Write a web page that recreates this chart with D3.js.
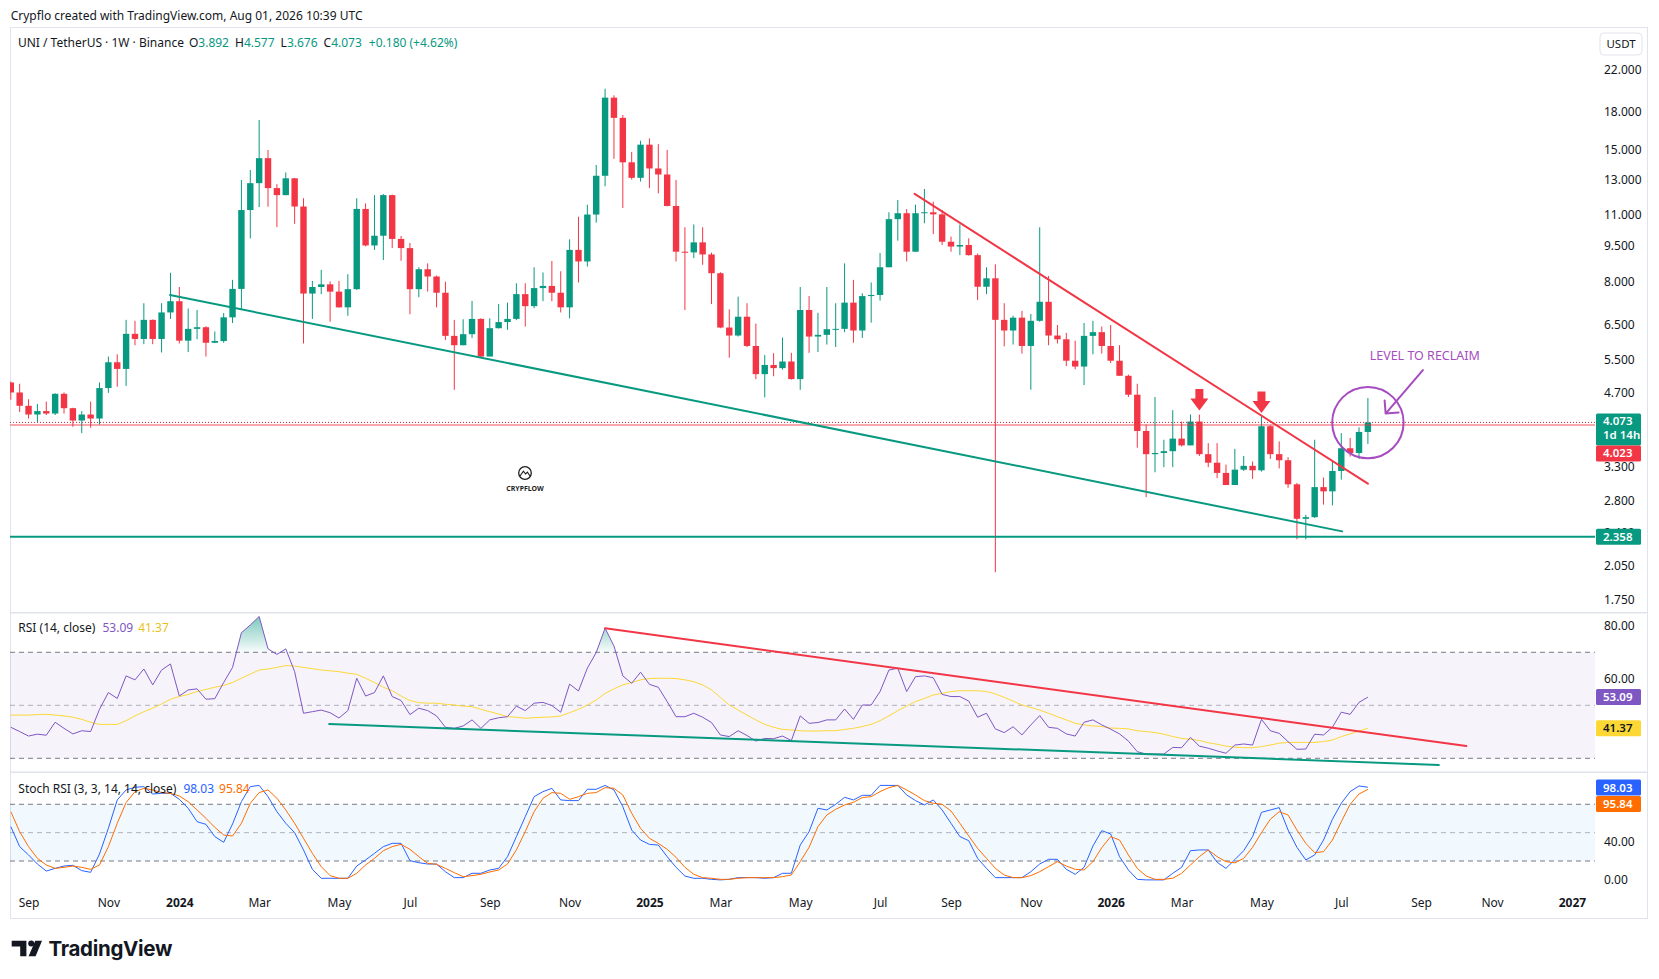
<!DOCTYPE html>
<html>
<head>
<meta charset="utf-8">
<title>UNI / TetherUS 1W</title>
<script src="https://cdn.jsdelivr.net/npm/d3@7"></script>
<style>
  html, body { margin: 0; padding: 0; background: #fff; }
  svg { display: block; font-family: "Noto Sans", Roboto, sans-serif; }
</style>
</head>
<body>
<svg id="chart"></svg>
<script>
// ---- weekly UNI/USDT candles, bar 1 = week of 21 Aug 2023 ----
const firstOpen = 4.93;
const closes = [4.70,4.41,4.23,4.30,4.25,4.67,4.36,4.11,4.23,4.15,
  4.80,5.43,5.26,6.22,6.07,6.65,6.07,6.89,7.27,6.02,
  6.37,6.42,5.96,6.01,6.73,7.71,11.24,12.78,14.40,12.48,
  12.07,13.08,11.43,7.54,7.78,7.88,7.61,7.06,7.70,11.30,
  9.49,9.94,12.07,9.79,9.37,7.70,8.47,8.18,7.57,6.16,
  5.89,6.21,6.68,5.58,6.39,6.58,6.68,7.52,7.10,7.74,
  7.82,7.57,7.06,9.29,8.79,11.00,13.24,19.23,17.46,14.12,
  13.11,15.36,13.71,13.32,11.46,9.21,9.18,9.63,9.09,8.31,
  6.41,6.17,6.75,5.87,5.13,5.36,5.28,5.45,5.01,6.97,
  6.14,6.19,6.36,6.37,7.22,6.32,7.45,7.49,8.55,10.76,
  11.07,9.21,11.07,11.12,11.01,9.66,9.44,9.51,9.06,7.79,
  8.11,6.65,6.32,6.72,5.87,6.62,7.25,6.17,6.06,5.47,
  5.32,6.16,6.27,5.87,5.47,5.09,4.65,3.91,3.50,3.52,
  3.55,3.77,3.65,4.09,3.50,3.36,3.20,3.02,3.25,3.31,
  3.24,4.00,3.50,3.40,3.03,2.57,2.59,2.99,2.93,3.23,
  3.60,3.52,3.892,4.073];
const highs = [4.95,4.90,4.55,4.45,4.50,4.68,4.70,4.37,4.30,4.50,
  4.93,5.58,5.64,6.65,6.62,7.20,6.66,7.20,8.33,7.78,
  7.02,6.97,6.45,6.29,6.87,8.05,12.98,13.61,17.28,14.98,
  12.72,13.45,13.10,11.89,8.01,8.44,7.99,8.01,8.27,11.89,
  11.60,12.07,12.13,12.10,9.93,9.60,8.55,8.71,8.22,7.98,
  6.65,6.67,7.28,6.70,6.70,7.17,7.22,7.92,7.92,8.55,
  8.34,8.81,8.39,9.77,10.89,11.53,13.94,20.07,19.45,17.70,
  14.84,15.65,15.83,15.40,14.98,12.98,10.35,10.49,10.35,9.17,
  8.35,6.99,7.43,7.20,6.53,5.62,5.67,6.11,5.68,7.78,
  7.45,6.88,7.78,7.20,8.71,8.05,7.55,7.95,9.15,11.12,
  11.79,11.29,11.53,12.43,11.70,11.24,9.90,10.49,9.82,9.13,
  8.55,8.67,7.20,6.78,6.94,6.84,10.35,8.20,6.49,6.25,
  6.02,6.55,6.62,6.44,6.49,5.89,5.12,4.90,4.03,4.60,
  3.75,4.32,4.09,4.23,4.23,3.69,3.69,3.33,3.59,3.47,
  3.38,4.20,4.02,3.72,3.45,3.05,2.62,3.75,3.13,3.39,
  3.87,3.78,3.98,4.577];
const lows = [4.54,4.28,4.15,4.08,4.22,4.22,4.25,3.99,3.87,3.97,
  4.03,4.69,4.83,4.85,5.89,5.92,5.92,5.69,6.68,5.94,
  5.70,6.06,5.58,5.95,5.96,6.55,6.97,9.82,11.40,11.42,
  10.36,12.06,10.52,5.94,6.68,7.52,6.59,7.05,6.78,7.67,
  9.45,9.29,8.85,9.37,8.82,6.83,7.41,7.61,7.06,6.04,
  4.76,5.89,6.10,5.54,5.60,6.38,6.34,6.64,6.44,7.03,
  7.27,7.27,6.89,6.70,7.95,8.58,10.58,12.59,14.36,11.35,
  13.00,12.88,12.48,12.17,11.44,8.79,6.97,8.93,8.65,7.17,
  6.39,5.55,6.14,5.84,5.01,4.59,5.08,5.24,5.00,4.76,
  5.68,5.70,5.91,5.84,6.27,5.96,6.10,6.56,7.29,8.55,
  9.71,8.79,9.21,10.55,10.02,9.51,9.21,9.06,9.04,7.31,
  7.52,1.99,5.86,5.91,5.66,4.76,6.59,5.89,5.94,5.33,
  5.25,4.87,5.64,5.66,5.41,5.09,4.60,3.61,2.85,3.21,
  3.29,3.29,3.63,3.65,3.47,3.29,3.12,3.02,3.02,3.23,
  3.11,3.22,3.42,3.27,2.98,2.33,2.33,2.58,2.75,2.74,
  3.10,3.46,3.42,3.676];

// ---- RSI (14) and its moving average ----
const rsi = [41.7,40.1,38.4,39.1,38.7,43.6,41.3,39.2,40.4,40.1,
  48.5,54.8,52.6,61.1,59.6,63.7,57.7,63.3,65.6,53.5,
  55.8,56.2,52.3,52.5,58.6,64.3,77.4,80.3,83.5,71.3,
  69.2,71.3,62.7,47.0,47.6,48.2,47.2,45.2,48.0,60.2,
  53.5,54.8,61.1,53.3,51.8,46.5,48.9,48.0,46.0,41.7,
  41.3,42.2,44.5,41.3,44.5,45.3,45.7,49.7,48.0,50.8,
  51.1,49.9,47.4,58.0,55.4,64.0,69.9,79.1,72.4,61.1,
  58.3,62.5,57.9,56.8,51.4,45.7,45.7,47.0,45.5,43.5,
  38.8,38.2,40.4,38.6,36.5,37.5,37.4,38.4,36.7,46.0,
  43.2,43.5,44.5,44.5,48.6,44.7,50.1,50.1,55.2,63.3,
  64.0,55.2,60.8,61.1,60.4,54.1,53.3,53.3,51.6,45.5,
  47.0,41.1,39.7,41.9,38.8,42.6,46.1,41.7,41.3,39.2,
  38.4,43.6,44.5,42.6,41.0,39.2,36.5,32.5,31.6,31.6,
  31.6,34.1,34.0,37.9,34.6,33.8,32.8,31.9,35.0,35.4,
  35.0,44.7,40.4,39.4,36.3,33.4,33.5,39.1,38.8,41.7,
  47.4,46.6,51.1,53.09];
const rsiMa = [46.3,46.3,46.3,46.5,46.6,46.3,46.0,45.5,44.7,43.6,
  42.8,42.8,42.8,44.2,46.0,47.6,48.9,50.5,52.3,53.3,
  54.1,55.2,56.0,56.8,57.5,58.6,60.2,61.8,63.3,63.7,
  64.3,65.0,64.8,64.3,63.8,63.3,63.0,62.7,62.1,61.7,
  60.2,58.6,56.8,55.5,53.5,51.8,51.0,50.8,50.8,50.4,
  50.1,49.7,49.5,48.5,47.6,46.7,45.7,45.5,45.1,45.3,
  45.5,45.6,46.0,47.2,48.5,50.1,52.0,54.5,56.2,57.7,
  58.6,59.6,60.1,60.2,60.2,60.1,59.6,58.9,57.7,55.8,
  53.0,50.1,48.2,46.3,44.5,42.8,41.7,40.9,40.7,40.4,
  40.3,40.3,40.4,40.4,40.9,41.3,42.0,42.8,44.2,46.0,
  48.0,49.7,51.4,52.6,53.9,54.5,55.2,55.5,55.5,55.5,
  55.2,54.3,53.0,51.6,50.1,49.2,48.2,47.0,45.7,44.5,
  43.2,42.6,42.2,42.0,41.4,41.3,41.1,40.4,40.1,39.7,
  39.1,38.2,37.5,37.2,36.7,35.9,35.3,34.6,34.2,34.0,
  34.0,34.4,35.0,35.7,36.0,36.0,36.0,36.0,36.3,36.9,
  38.2,39.2,40.3,41.37];

// ---- Stoch RSI (3, 3, 14, 14) ----
const stochK = [56.4,35.2,26.4,16.8,9.4,12.2,14.7,15.4,9.8,8.0,
  27.4,54.6,84.6,95.2,98.0,98.7,90.9,91.6,91.6,85.3,
  75.8,61.6,58.8,45.8,39.8,59.2,82.8,98.7,100,88.1,
  72.2,59.9,50.0,31.7,11.2,1.7,1.7,1.7,1.7,14.7,
  21.1,28.1,35.2,38.7,38.7,20.4,18.2,16.8,16.8,8.7,
  2.4,2.4,7.0,7.0,10.5,12.2,24.6,45.8,66.9,88.1,
  93.4,96.9,84.6,83.9,83.9,95.9,95.9,100,95.2,77.5,
  52.8,42.2,37.6,36.9,24.6,13.3,4.1,1.7,1.7,0.6,
  0,0.6,2.4,2.4,2.4,1.7,2.4,7.0,7.0,36.9,
  51.1,75.8,74.0,80.0,87.4,84.6,89.5,89.5,100,100,
  100,89.9,83.9,79.3,84.6,74.0,59.9,45.8,41.5,22.8,
  12.2,2.4,2.4,2.4,2.4,8.7,16.8,21.8,21.8,11.2,
  5.9,13.3,35.9,52.1,48.6,24.6,10.5,0.6,0,0,
  0,7.0,13.3,30.9,31.7,31.7,18.6,12.2,21.5,30.9,
  45.8,71.5,74.0,76.5,52.8,34.5,21.1,26.4,42.2,64.1,
  81.1,93.4,99.4,98.03];
const stochD = [72.2,51.1,35.2,22.8,15.8,12.2,13.3,14.7,13.3,11.2,
  15.8,35.2,59.9,81.8,93.4,96.9,95.2,92.4,91.6,88.8,
  82.8,74.0,65.2,55.6,47.5,46.5,59.9,81.1,92.4,95.2,
  86.4,74.0,59.9,44.0,28.1,14.0,4.5,1.7,1.7,7.0,
  15.8,22.8,30.9,35.2,37.6,32.4,24.6,17.5,16.5,12.2,
  7.7,3.4,4.5,5.9,8.4,10.5,16.8,31.7,51.1,72.2,
  86.4,92.4,91.6,85.3,88.1,91.6,92.4,97.6,96.9,89.9,
  70.5,54.6,44.0,38.7,32.4,23.9,13.3,5.9,2.4,1.7,
  0.6,0.6,1.7,2.4,2.4,2.4,2.4,3.4,5.2,19.3,
  34.5,56.4,68.7,74.7,79.3,82.1,87.1,88.1,93.4,97.6,
  100,95.2,89.9,83.9,81.1,80.0,72.9,59.9,46.5,33.4,
  22.8,12.2,5.2,2.4,2.4,4.5,8.7,14.0,19.3,14.7,
  11.2,10.5,19.3,34.1,45.8,42.2,26.4,12.2,4.1,0.6,
  0.6,1.7,7.0,15.8,24.6,31.7,24.6,19.3,18.0,22.8,
  34.5,50.0,64.1,72.2,68.7,52.8,38.7,28.8,29.9,42.2,
  61.6,80.0,90.9,95.84];

// ---- axis ticks (labels hidden behind the value badges are left out) ----
const priceTicks = [22, 18, 15, 13, 11, 9.5, 8, 6.5, 5.5, 4.7, 3.3, 2.8, 2.4, 2.05, 1.75];
const rsiTicks = [60, 80];
const stochTicks = [0, 40];

// ---- drawings: [bar, value] ----
const priceSupport = [[18.95, 7.49], [151.1, 2.42]];
const priceResistance = [[102.9, 12.14], [154.0, 3.04]];
const rsiResistance = [[68.0, 79.1], [165.1, 34.6]];
const rsiSupport = [[36.9, 42.9], [162.0, 27.5]];
const reclaimLevel = 4.023;
const floorLevel = 2.358;
const lastPrice = 4.073;
const rejectArrows = [[135, 4.31], [142, 4.26]];
const reclaimCircle = [154, 4.07];
const reclaimPointer = [[160.2, 5.23], [156.0, 4.25]];
const reclaimNote = [154.2, 5.60, 'LEVEL TO RECLAIM'];

// ---------------------------------------------------------------
const W = 1659, H = 979;
const GREEN = '#089981', RED = '#f23645', TEXT = '#131722', FRAME = '#e0e3eb';
const paneL = 10, paneR = 1595, frameR = 1648;
const pricePane = { top: 27, bottom: 612.7 };
const rsiPane = { top: 612.7, bottom: 772.3 };
const stochPane = { top: 772.3, bottom: 894 };

const svg = d3.select('#chart').attr('width', W).attr('height', H);

const start = Date.UTC(2023, 7, 21);
const WEEK = 7 * 864e5;
const dateAt = b => new Date(start + (b - 1) * WEEK);
const x = d3.scaleUtc().domain([dateAt(1), dateAt(177)]).range([10.8, 1571.9]);
const xb = b => x(dateAt(b));

const yPrice = d3.scaleLog().domain([1.75, 22]).range([599.2, 69.5]);
const yRsi = d3.scaleLinear().domain([30, 70]).range([758.3, 652.3]);
const yStoch = d3.scaleLinear().domain([20, 80]).range([861, 804.3]);

// clip paths
const defs = svg.append('defs');
function clip(id, pane) {
  defs.append('clipPath').attr('id', id).append('rect')
    .attr('x', paneL).attr('y', pane.top)
    .attr('width', paneR - paneL).attr('height', pane.bottom - pane.top);
}
clip('clip-price', pricePane);
clip('clip-rsi', rsiPane);
clip('clip-stoch', stochPane);

// ---- header text ----
svg.append('text').attr('x', 10.7).attr('y', 19.5)
  .attr('fill', TEXT).style('font-size', '12px')
  .text('Crypflo created with TradingView.com, Aug 01, 2026 10:39 UTC');

// ---- frame ----
svg.append('rect').attr('x', paneL + 0.5).attr('y', pricePane.top + 0.5)
  .attr('width', frameR - paneL - 1).attr('height', 918 - pricePane.top)
  .attr('fill', 'none').attr('stroke', FRAME);
[rsiPane.top, stochPane.top].forEach(yy => {
  svg.append('line').attr('x1', paneL).attr('x2', frameR)
    .attr('y1', yy).attr('y2', yy).attr('stroke', FRAME).attr('stroke-width', 1.5);
});

// ---- price pane ----
const pg = svg.append('g').attr('clip-path', 'url(#clip-price)');

const candles = closes.map((c, i) => ({
  bar: i + 1,
  open: i === 0 ? firstOpen : closes[i - 1],
  high: highs[i], low: lows[i], close: c
}));
const bodyW = 6.4;

pg.selectAll('.wick').data(candles).join('line')
  .attr('class', 'wick')
  .attr('x1', d => xb(d.bar)).attr('x2', d => xb(d.bar))
  .attr('y1', d => yPrice(d.high)).attr('y2', d => yPrice(d.low))
  .attr('stroke', d => d.close >= d.open ? GREEN : RED).attr('stroke-width', 1);

pg.selectAll('.body').data(candles).join('rect')
  .attr('class', 'body')
  .attr('x', d => xb(d.bar) - bodyW / 2).attr('width', bodyW)
  .attr('y', d => yPrice(Math.max(d.open, d.close)))
  .attr('height', d => Math.max(1, Math.abs(yPrice(d.open) - yPrice(d.close))))
  .attr('fill', d => d.close >= d.open ? GREEN : RED);

// horizontal levels
pg.append('line').attr('x1', paneL).attr('x2', paneR)
  .attr('y1', yPrice(reclaimLevel)).attr('y2', yPrice(reclaimLevel))
  .attr('stroke', RED).attr('stroke-width', 1.2).attr('opacity', 0.85);
pg.append('line').attr('x1', paneL).attr('x2', paneR)
  .attr('y1', yPrice(lastPrice)).attr('y2', yPrice(lastPrice))
  .attr('stroke', '#c62f3b').attr('stroke-width', 1).attr('stroke-dasharray', '1,2');
pg.append('line').attr('x1', paneL).attr('x2', paneR)
  .attr('y1', yPrice(floorLevel)).attr('y2', yPrice(floorLevel))
  .attr('stroke', GREEN).attr('stroke-width', 2);

// trend lines
function trend(g, pts, yScale, color) {
  g.append('line')
    .attr('x1', xb(pts[0][0])).attr('y1', yScale(pts[0][1]))
    .attr('x2', xb(pts[1][0])).attr('y2', yScale(pts[1][1]))
    .attr('stroke', color).attr('stroke-width', 2).attr('stroke-linecap', 'round');
}
trend(pg, priceSupport, yPrice, GREEN);
trend(pg, priceResistance, yPrice, RED);

// rejection arrows
pg.selectAll('.reject').data(rejectArrows).join('path')
  .attr('class', 'reject')
  .attr('d', d => {
    const tx = xb(d[0]), ty = yPrice(d[1]);
    return `M${tx - 4},${ty - 21.5}H${tx + 4}V${ty - 12}H${tx + 9}L${tx},${ty}L${tx - 9},${ty - 12}H${tx - 4}Z`;
  })
  .attr('fill', RED);

// reclaim circle, pointer and note
const PURPLE = '#a64cc0';
pg.append('circle').attr('cx', xb(reclaimCircle[0])).attr('cy', yPrice(reclaimCircle[1]))
  .attr('r', 35.7).attr('fill', 'none').attr('stroke', PURPLE).attr('stroke-width', 2);
{
  const sx = xb(reclaimPointer[0][0]), sy = yPrice(reclaimPointer[0][1]);
  const tx = xb(reclaimPointer[1][0]), ty = yPrice(reclaimPointer[1][1]);
  const ang = Math.atan2(sy - ty, sx - tx);
  const hl = 13;
  const h1 = [tx + hl * Math.cos(ang - Math.PI / 4), ty + hl * Math.sin(ang - Math.PI / 4)];
  const h2 = [tx + hl * Math.cos(ang + Math.PI / 4), ty + hl * Math.sin(ang + Math.PI / 4)];
  pg.append('path')
    .attr('d', `M${sx},${sy}L${tx},${ty}M${h1[0]},${h1[1]}L${tx},${ty}L${h2[0]},${h2[1]}`)
    .attr('fill', 'none').attr('stroke', PURPLE).attr('stroke-width', 2)
    .attr('stroke-linecap', 'round').attr('stroke-linejoin', 'round');
}
pg.append('text').attr('x', xb(reclaimNote[0])).attr('y', yPrice(reclaimNote[1]))
  .attr('dy', '0.35em').attr('fill', PURPLE).style('font-size', '12.5px')
  .text(reclaimNote[2]);

// watermark logo
const wm = svg.append('g').attr('transform', 'translate(525,473)');
wm.append('circle').attr('r', 6.3).attr('fill', 'none').attr('stroke', '#1e1e1e').attr('stroke-width', 1.3);
wm.append('path').attr('d', 'M-5,3 L-1.6,-1.8 L0.6,1 L2.4,-0.8 L5,3')
  .attr('fill', 'none').attr('stroke', '#1e1e1e').attr('stroke-width', 1.1);
wm.append('text').attr('y', 17.5).attr('text-anchor', 'middle')
  .attr('fill', '#1e1e1e').style('font-size', '7px').style('font-weight', 700)
  .text('CRYPFLOW');

// legend
const lg = svg.append('text').attr('x', 17.9).attr('y', 46.5).style('font-size', '12px').attr('fill', TEXT);
lg.append('tspan').text('UNI / TetherUS · 1W · Binance');
[['O', 3.892], ['H', 4.577], ['L', 3.676], ['C', 4.073]].forEach(([k, v], i) => {
  lg.append('tspan').attr('dx', i === 0 ? 5 : 6).text(k);
  lg.append('tspan').attr('fill', GREEN).text(d3.format('.3f')(v));
});
lg.append('tspan').attr('dx', 7).attr('fill', GREEN).text('+0.180 (+4.62%)');

// ---- RSI pane ----
const rg = svg.append('g').attr('clip-path', 'url(#clip-rsi)');
rg.append('rect').attr('x', paneL).attr('width', paneR - paneL)
  .attr('y', yRsi(70)).attr('height', yRsi(30) - yRsi(70))
  .attr('fill', 'rgba(126,87,194,0.07)');
[[70, 1], [50, 0.55], [30, 1]].forEach(([v, o]) => {
  rg.append('line').attr('x1', paneL).attr('x2', paneR)
    .attr('y1', yRsi(v)).attr('y2', yRsi(v))
    .attr('stroke', '#787b86').attr('stroke-opacity', o).attr('stroke-dasharray', '5,4');
});
const grad = defs.append('linearGradient').attr('id', 'ob-grad')
  .attr('gradientUnits', 'userSpaceOnUse')
  .attr('x1', 0).attr('x2', 0).attr('y1', yRsi(84)).attr('y2', yRsi(70));
grad.append('stop').attr('offset', '0%').attr('stop-color', GREEN).attr('stop-opacity', 0.55);
grad.append('stop').attr('offset', '100%').attr('stop-color', GREEN).attr('stop-opacity', 0.03);
defs.append('clipPath').attr('id', 'clip-ob').append('rect')
  .attr('x', paneL).attr('y', rsiPane.top).attr('width', paneR - paneL)
  .attr('height', yRsi(70) - rsiPane.top);
rg.append('path').datum(rsi)
  .attr('clip-path', 'url(#clip-ob)')
  .attr('d', d3.area().x((d, i) => xb(i + 1)).y0(yRsi(70)).y1(d => yRsi(d)))
  .attr('fill', 'url(#ob-grad)');
rg.append('path').datum(rsiMa)
  .attr('d', d3.line().x((d, i) => xb(i + 1)).y(d => yRsi(d)))
  .attr('fill', 'none').attr('stroke', '#fdd835').attr('stroke-width', 1);
rg.append('path').datum(rsi)
  .attr('d', d3.line().x((d, i) => xb(i + 1)).y(d => yRsi(d)))
  .attr('fill', 'none').attr('stroke', '#7e57c2').attr('stroke-width', 1);
trend(rg, rsiResistance, yRsi, RED);
trend(rg, rsiSupport, yRsi, GREEN);

const rl = svg.append('text').attr('x', 18.3).attr('y', 631.5).style('font-size', '12px').attr('fill', TEXT);
rl.append('tspan').text('RSI (14, close)');
rl.append('tspan').attr('dx', 7).attr('fill', '#7e57c2').text('53.09');
rl.append('tspan').attr('dx', 5).attr('fill', '#e8c21a').text('41.37');

// ---- Stoch RSI pane ----
const sg = svg.append('g').attr('clip-path', 'url(#clip-stoch)');
sg.append('rect').attr('x', paneL).attr('width', paneR - paneL)
  .attr('y', yStoch(80)).attr('height', yStoch(20) - yStoch(80))
  .attr('fill', 'rgba(33,150,243,0.06)');
[[80, 1], [50, 0.55], [20, 1]].forEach(([v, o]) => {
  sg.append('line').attr('x1', paneL).attr('x2', paneR)
    .attr('y1', yStoch(v)).attr('y2', yStoch(v))
    .attr('stroke', '#787b86').attr('stroke-opacity', o).attr('stroke-dasharray', '5,4');
});
sg.append('path').datum(stochK)
  .attr('d', d3.line().x((d, i) => xb(i + 1)).y(d => yStoch(d)))
  .attr('fill', 'none').attr('stroke', '#2962ff').attr('stroke-width', 1);
sg.append('path').datum(stochD)
  .attr('d', d3.line().x((d, i) => xb(i + 1)).y(d => yStoch(d)))
  .attr('fill', 'none').attr('stroke', '#ff6d00').attr('stroke-width', 1);

const sl = svg.append('text').attr('x', 18.3).attr('y', 792.5).style('font-size', '12px').attr('fill', TEXT);
sl.append('tspan').text('Stoch RSI (3, 3, 14, 14, close)');
sl.append('tspan').attr('dx', 7).attr('fill', '#2962ff').text('98.03');
sl.append('tspan').attr('dx', 5).attr('fill', '#ff6d00').text('95.84');

// ---- right axes ----
function rightAxis(scale, ticks, fmt) {
  svg.append('g').attr('transform', `translate(${paneR},0)`)
    .call(d3.axisRight(scale).tickValues(ticks).tickFormat(fmt).tickSize(0).tickPadding(9))
    .call(g => g.select('.domain').remove())
    .call(g => g.selectAll('text').attr('fill', TEXT)
      .style('font-size', '12px').style('font-family', '"Noto Sans", Roboto, sans-serif'));
}
rightAxis(yPrice, priceTicks, d3.format('.3f'));
rightAxis(yRsi, rsiTicks, d3.format('.2f'));
rightAxis(yStoch, stochTicks, d3.format('.2f'));

// badges
function badge(yc, h, lines, bg, fg) {
  svg.append('rect').attr('x', paneR + 1).attr('y', yc - h / 2)
    .attr('width', 45).attr('height', h).attr('rx', 1.5).attr('fill', bg);
  lines.forEach((t, k) => {
    svg.append('text').attr('x', paneR + 8)
      .attr('y', yc - h / 2 + 8 + k * 14).attr('dy', '0.35em')
      .attr('fill', fg).style('font-size', '11.5px').style('font-weight', 600).text(t);
  });
}
const lastY = yPrice(lastPrice);
badge(lastY + 7, 32, ['4.073', '1d 14h'], GREEN, '#fff');
badge(lastY + 31, 16, [d3.format('.3f')(reclaimLevel)], RED, '#fff');
badge(yPrice(floorLevel), 16, [d3.format('.3f')(floorLevel)], GREEN, '#fff');
badge(yRsi(53.09), 16, ['53.09'], '#7e57c2', '#fff');
badge(yRsi(41.37), 16, ['41.37'], '#fdd835', TEXT);
badge(787.5, 16, ['98.03'], '#2962ff', '#fff');
badge(804, 16, ['95.84'], '#ff6d00', '#fff');

// currency button
svg.append('rect').attr('x', 1600).attr('y', 33).attr('width', 42).attr('height', 22)
  .attr('rx', 4).attr('fill', '#fff').attr('stroke', FRAME);
svg.append('text').attr('x', 1621).attr('y', 44).attr('dy', '0.35em')
  .attr('text-anchor', 'middle').attr('fill', TEXT).style('font-size', '11.5px').text('USDT');

// ---- time axis ----
const monthTicks = [];
for (let b = 2; b <= 177; b++) {
  const d = dateAt(b), p = dateAt(b - 1);
  if (d.getUTCMonth() !== p.getUTCMonth() && d.getUTCMonth() % 2 === 0) monthTicks.push(d);
}
svg.append('g').attr('transform', 'translate(0,898.5)')
  .call(d3.axisBottom(x).tickValues(monthTicks).tickSize(0).tickPadding(0)
    .tickFormat(d => d.getUTCMonth() === 0 ? d3.utcFormat('%Y')(d) : d3.utcFormat('%b')(d)))
  .call(g => g.select('.domain').remove())
  .call(g => g.selectAll('text').attr('fill', TEXT)
    .style('font-size', '12px').style('font-family', '"Noto Sans", Roboto, sans-serif')
    .style('font-weight', d => d.getUTCMonth() === 0 ? 700 : 400));

// ---- TradingView footer logo ----
const tv = svg.append('g').attr('fill', '#131722');
tv.append('path').attr('d', 'M11.7,940.7H26.4V956.2H20.2V946.6H11.7Z');
tv.append('circle').attr('cx', 31.2).attr('cy', 943.6).attr('r', 3);
tv.append('path').attr('d', 'M35.2,940.7H42L35.6,956.2H28.6Z');
tv.append('text').attr('x', 48.5).attr('y', 956).style('font-family', 'Inter, "Noto Sans", sans-serif')
  .style('font-size', '20.5px').style('font-weight', 700).style('letter-spacing', '-0.3px')
  .text('TradingView');
</script>
</body>
</html>
